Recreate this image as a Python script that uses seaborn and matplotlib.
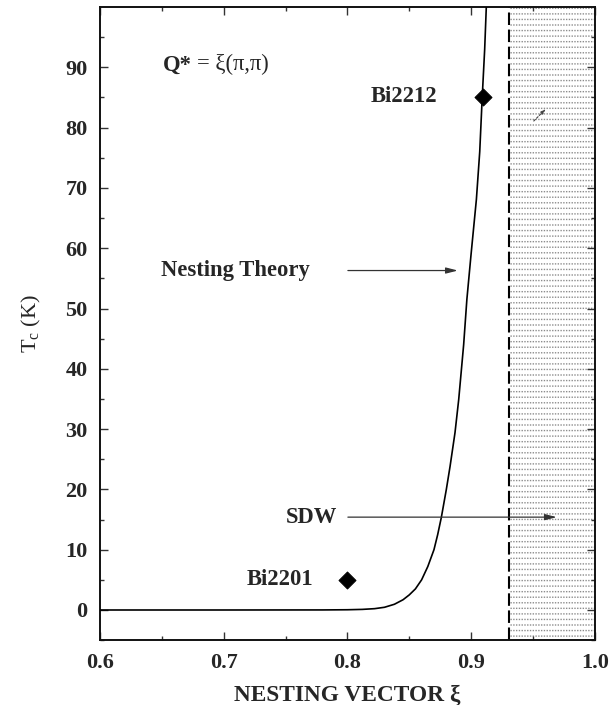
import numpy as np
import pandas as pd
import matplotlib
matplotlib.use("Agg")
import matplotlib.pyplot as plt
import seaborn as sns

# ---- data ----
curve_xi = [0.600, 0.700, 0.780, 0.800, 0.812, 0.822, 0.830, 0.838, 0.845, 0.850,
            0.855, 0.860, 0.865, 0.870, 0.873, 0.876, 0.880, 0.883, 0.887, 0.890,
            0.894, 0.8966, 0.900, 0.9043, 0.907, 0.909, 0.911, 0.9125]
curve_tc = [0.0, 0.0, 0.01, 0.04, 0.10, 0.22, 0.45, 0.95, 1.7, 2.5,
            3.5, 5.0, 7.2, 10.0, 12.5, 15.4, 20.0, 23.8, 29.4, 34.9,
            44.0, 51.5, 59.0, 68.1, 76.0, 85.0, 93.0, 101.0]
samples = ["Bi2201", "Bi2212"]
sample_xi = [0.80, 0.91]
sample_tc = [5.0, 85.0]
sdw_boundary = 0.931
x_ticks = [0.6, 0.7, 0.8, 0.9, 1.0]
y_ticks = [0, 10, 20, 30, 40, 50, 60, 70, 80, 90]

curve = pd.DataFrame({"xi": curve_xi, "tc": curve_tc})
pts = pd.DataFrame({"sample": samples, "xi": sample_xi, "tc": sample_tc})

sns.set_style("ticks")
plt.rcParams["font.family"] = ["Liberation Serif", "DejaVu Serif"]
plt.rcParams["mathtext.fontset"] = "custom"
plt.rcParams["mathtext.rm"] = "Liberation Serif"
plt.rcParams["mathtext.it"] = "Liberation Serif:italic"
plt.rcParams["mathtext.bf"] = "Liberation Serif:bold"
plt.rcParams["hatch.linewidth"] = 1.0

fig = plt.figure(figsize=(6.10, 7.05), dpi=100)
ax = fig.add_axes([0.164, 0.092, 0.811, 0.898])

# SDW shaded region (dotted rows)
ax.axvspan(sdw_boundary, 1.0, facecolor="white", edgecolor="#8c8c8c",
           hatch="---", linewidth=0, zorder=0)
ax.axvspan(sdw_boundary, 1.0, facecolor="none", edgecolor="white",
           hatch="||||||", linewidth=0, zorder=0.5)
ax.axvline(sdw_boundary, color="black", lw=1.5, ls=(0, (6, 2.2)), zorder=2)

sns.lineplot(data=curve, x="xi", y="tc", ax=ax, color="black", lw=1.2,
             sort=False, zorder=3)
sns.scatterplot(data=pts, x="xi", y="tc", ax=ax, marker="D", s=75,
                color="black", edgecolor="black", zorder=4, legend=False)

ax.set_xlim(0.6, 1.0)
ax.set_ylim(-5, 100)
ax.set_xticks(x_ticks)
ax.set_xticklabels([f"{v:.1f}" for v in x_ticks])
ax.set_yticks(y_ticks)
ax.set_xticks(np.arange(0.65, 1.0, 0.1), minor=True)
ax.set_yticks(np.arange(-5, 100, 10), minor=True)
ax.tick_params(which="both", direction="in", top=True, right=True,
               width=1.0, color="#333333")
ax.tick_params(which="major", length=5.5, labelsize=16, pad=9)
ax.tick_params(which="minor", length=3)
for lab in ax.get_xticklabels() + ax.get_yticklabels():
    lab.set_fontweight("bold")
for sp in ax.spines.values():
    sp.set_linewidth(1.4)
    sp.set_color("#111111")

ax.set_xlabel("NESTING VECTOR ξ", fontsize=16.8, fontweight="bold", labelpad=9)
ax.set_ylabel(r"T$_{\rm c}$ (K)", fontsize=16, labelpad=16)

# annotations
fs = 16.3
t1 = ax.text(0.6505, 90.4, "Q*", fontsize=fs, fontweight="bold",
             ha="left", va="center")
ax.annotate("= ξ(π,π)", xy=(1, 0), xycoords=t1, xytext=(4, 0),
            textcoords="offset points", fontsize=fs, ha="left", va="bottom")

ax.text(0.8725, 85.2, "Bi2212", fontsize=fs, fontweight="bold",
        ha="right", va="center")
ax.text(0.7721, 5.1, "Bi2201", fontsize=fs, fontweight="bold",
        ha="right", va="center")
ax.text(0.7697, 56.3, "Nesting Theory", fontsize=fs, fontweight="bold",
        ha="right", va="center")
ax.text(0.7915, 15.4, "SDW", fontsize=fs, fontweight="bold",
        ha="right", va="center")

arrow_kw = dict(arrowstyle="-|>,head_length=0.7,head_width=0.18",
                color="#333333", lw=0.9, shrinkA=0, shrinkB=0)
ax.annotate("", xy=(0.8893, 56.3), xytext=(0.8004, 56.3), arrowprops=arrow_kw)
ax.annotate("", xy=(0.9693, 15.4), xytext=(0.8004, 15.4), arrowprops=arrow_kw)
ax.annotate("", xy=(0.9604, 83.1), xytext=(0.9507, 81.1),
            arrowprops=dict(arrowstyle="-|>,head_length=0.3,head_width=0.1",
                            color="#444444", lw=0.8, ls=(0, (2, 1.5)),
                            shrinkA=0, shrinkB=0))

fig.savefig("out.png", dpi=100)
